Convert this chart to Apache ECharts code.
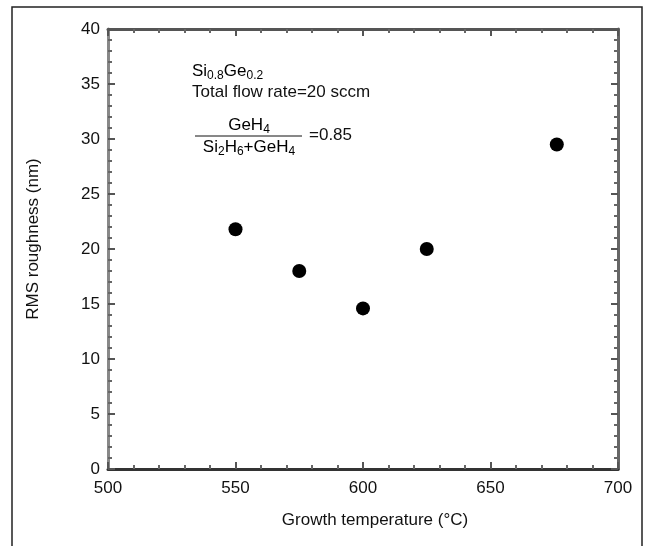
<!DOCTYPE html>
<html>
<head>
<meta charset="utf-8">
<script src="https://cdn.jsdelivr.net/npm/echarts@6/dist/echarts.min.js"></script>
<style>
  html, body { margin: 0; padding: 0; background: #fff; }
  #graph { width: 645px; height: 546px; }
</style>
</head>
<body>
<div id="graph"></div>
<script>
"use strict"

// growth temperature (°C) vs RMS roughness (nm)
const temps = [550, 575, 600, 625, 676];
const rough = [21.8, 18.0, 14.6, 20.0, 29.5];
const xTicks = [500, 550, 600, 650, 700];

const font = "'Liberation Sans', Arial, sans-serif";
const fs = 17;

function frameAxis(pos, lineColor, show)
{
    return {
        type: 'value',
        position: pos,
        axisLine: { show: true, onZero: false, lineStyle: { color: lineColor, width: 3 } },
        axisTick: { show: true, inside: true, length: 7, lineStyle: { color: '#555', width: 2 } },
        minorTick: { show: true, splitNumber: 5, length: 4, lineStyle: { color: '#666', width: 2 } },
        axisLabel: { show: show, color: '#111', fontSize: fs, fontFamily: font },
        splitLine: { show: false }
    };
}

const xBottom = Object.assign(frameAxis('bottom', '#333', true), {
    min: 500, max: 700, interval: 50,
    name: 'Growth temperature (°C)', nameLocation: 'middle', nameGap: 43,
    nameTextStyle: { color: '#111', fontSize: fs, fontFamily: font, padding: [0, 0, 0, 24] }
});
xBottom.axisLabel.margin = 11;
xBottom.axisLabel.formatter = v => xTicks.includes(v) ? String(v) : '';

const xTop = Object.assign(frameAxis('top', '#555', false), { min: 500, max: 700, interval: 50 });

const yLeft = Object.assign(frameAxis('left', '#888', true), {
    min: 0, max: 40, interval: 5,
    name: 'RMS roughness (nm)', nameLocation: 'middle', nameGap: 66,
    nameTextStyle: { color: '#111', fontSize: fs, fontFamily: font, padding: [0, 0, 0, 20] }
});
yLeft.axisLabel.margin = 8;

const yRight = Object.assign(frameAxis('right', '#666', false), { min: 0, max: 40, interval: 5 });

const myChart = echarts.init(document.getElementById("graph"), null, { renderer: "canvas" });

const richSub = {
    n: { fontSize: fs, fontFamily: font, color: '#111', lineHeight: 22, verticalAlign: 'middle' },
    s: { fontSize: 12, fontFamily: font, color: '#111', lineHeight: 22, verticalAlign: 'bottom' }
};
const plain = t => ({ text: t, fontSize: fs, fontFamily: font, fill: '#111', verticalAlign: 'middle' });

myChart.setOption({
    animation: false,
    backgroundColor: '#fff',
    grid: { left: 108, right: 27, top: 29, bottom: 77 },
    xAxis: [xBottom, xTop],
    yAxis: [yLeft, yRight],
    graphic: [
        { type: 'rect', shape: { x: 12, y: 7, width: 630, height: 560 },
          style: { fill: null, stroke: '#222', lineWidth: 1.5 }, silent: true },
        { type: 'text', x: 192, y: 71,
          style: { text: '{n|Si}{s|0.8}{n|Ge}{s|0.2}', rich: richSub, verticalAlign: 'middle' } },
        { type: 'text', x: 192, y: 92, style: plain('Total flow rate=20 sccm') },
        { type: 'text', x: 249, y: 125,
          style: { text: '{n|GeH}{s|4}', rich: richSub, align: 'center', verticalAlign: 'middle' } },
        { type: 'line', shape: { x1: 195, y1: 136, x2: 302, y2: 136 },
          style: { stroke: '#111', lineWidth: 1 } },
        { type: 'text', x: 249, y: 147,
          style: { text: '{n|Si}{s|2}{n|H}{s|6}{n|+GeH}{s|4}', rich: richSub, align: 'center', verticalAlign: 'middle' } },
        { type: 'text', x: 309, y: 135, style: plain('=0.85') }
    ],
    series: [{
        type: 'scatter',
        xAxisIndex: 0, yAxisIndex: 0,
        symbol: 'circle', symbolSize: 14,
        itemStyle: { color: '#000', opacity: 1 },
        data: temps.map((t, i) => [t, rough[i]])
    }]
});
</script>
</body>
</html>
